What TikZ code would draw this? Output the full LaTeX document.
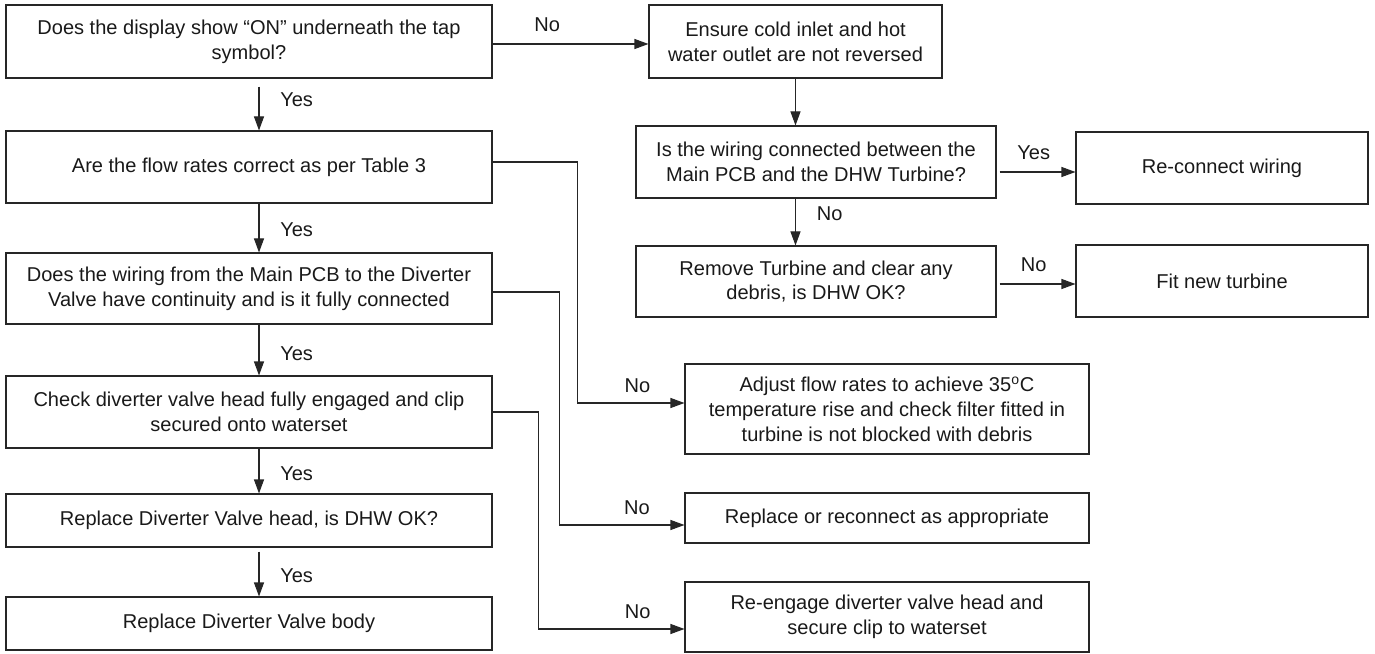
\documentclass[tikz,border=0pt]{standalone}
\usepackage{fontspec}
\setmainfont{Liberation Sans}
\usetikzlibrary{arrows.meta}
\begin{document}
\begin{tikzpicture}[
  font=\fontsize{11.4}{14.2}\selectfont,
  box/.style={draw=black!85, line width=0.6pt, align=center, inner sep=0pt, text=black!90, minimum height=1.44cm},
  lbox/.style={box, minimum width=9.72cm},
  mbox/.style={box, minimum width=7.2cm},
  rbox/.style={box, minimum width=5.84cm},
  nbox/.style={box, minimum width=8.08cm},
  lbl/.style={inner sep=1pt, text=black!90},
  arr/.style={draw=black!85, line width=0.6pt, -{Triangle[length=0.28cm,width=0.2cm]}}]
\useasboundingbox (0,0) rectangle (27.5,-13.08);
% left column
\node[lbox, minimum height=1.46cm] (disp) at (4.98,-0.83) {Does the display show “ON” underneath the tap\\symbol?};
\node[lbox] (flow) at (4.98,-3.34) {Are the flow rates correct as per Table 3};
\node[lbox, minimum height=1.42cm] (cont) at (4.98,-5.77) {Does the wiring from the Main PCB to the Diverter\\Valve have continuity and is it fully connected};
\node[lbox] (clip) at (4.98,-8.24) {Check diverter valve head fully engaged and clip\\secured onto waterset};
\node[lbox, minimum height=1.06cm] (head) at (4.98,-10.41) {Replace Diverter Valve head, is DHW OK?};
\node[lbox, minimum height=1.06cm] (body) at (4.98,-12.47) {Replace Diverter Valve body};
% right part
\node[box, minimum width=5.86cm, minimum height=1.46cm] (ensure) at (15.91,-0.83) {Ensure cold inlet and hot\\water outlet are not reversed};
\node[mbox] (wiring) at (16.32,-3.24) {Is the wiring connected between the\\Main PCB and the DHW Turbine?};
\node[mbox, minimum height=1.42cm] (remove) at (16.32,-5.63) {Remove Turbine and clear any\\debris, is DHW OK?};
\node[rbox] (reconn) at (24.44,-3.36) {Re-connect wiring};
\node[rbox] (fitnew) at (24.44,-5.62) {Fit new turbine};
\node[nbox, minimum height=1.8cm] (adjust) at (17.74,-8.18) {Adjust flow rates to achieve 35\textsuperscript{o}C\\temperature rise and check filter fitted in\\turbine is not blocked with debris};
\node[nbox, minimum height=1.0cm] (replace) at (17.74,-10.36) {Replace or reconnect as appropriate};
\node[nbox, minimum height=1.4cm] (reeng) at (17.74,-12.34) {Re-engage diverter valve head and\\secure clip to waterset};

% yes arrows down the left
\draw[arr] ([xshift=0.2cm,yshift=-0.16cm]disp.south) -- node[lbl, right=0.38cm, pos=0.3] {Yes} ([xshift=0.2cm]flow.north);
\draw[arr] ([xshift=0.2cm]flow.south) -- node[lbl, right=0.38cm, pos=0.54] {Yes} ([xshift=0.2cm]cont.north);
\draw[arr] ([xshift=0.2cm]cont.south) -- node[lbl, right=0.38cm, pos=0.58] {Yes} ([xshift=0.2cm]clip.north);
\draw[arr] ([xshift=0.2cm]clip.south) -- node[lbl, right=0.38cm, pos=0.56] {Yes} ([xshift=0.2cm]head.north);
\draw[arr] ([xshift=0.2cm,yshift=-0.08cm]head.south) -- node[lbl, right=0.38cm, pos=0.54] {Yes} ([xshift=0.2cm]body.north);

% no branches
\draw[arr] ([yshift=-0.05cm]disp.east) -- node[lbl, above=0.2cm, pos=0.35] {No} ([yshift=-0.05cm]ensure.west);
\draw[arr] ([yshift=0.1cm]flow.east) -- ++(1.7,0) |- node[lbl, above=0.17cm, pos=0.78] {No} ([yshift=0.12cm]adjust.west);
\draw[arr] ([yshift=-0.07cm]cont.east) -- ++(1.34,0) |- node[lbl, above=0.17cm, pos=0.81] {No} ([yshift=-0.14cm]replace.west);
\draw[arr] (clip.east) -- ++(0.92,0) |- node[lbl, above=0.17cm, pos=0.84] {No} ([yshift=-0.24cm]reeng.west);

% turbine checks
\draw[arr] (ensure.south) -- (ensure.south |- wiring.north);
\draw[arr] (ensure.south |- wiring.south) -- node[lbl, right=0.38cm, pos=0.32] {No} (ensure.south |- remove.north);
\draw[arr] ([xshift=0.06cm,yshift=-0.2cm]wiring.east) -- node[lbl, above=0.2cm, pos=0.45] {Yes} ([yshift=-0.2cm]wiring.east -| reconn.west);
\draw[arr] ([xshift=0.06cm,yshift=-0.05cm]remove.east) -- node[lbl, above=0.2cm, pos=0.45] {No} ([yshift=-0.05cm]remove.east -| fitnew.west);
\end{tikzpicture}
\end{document}
